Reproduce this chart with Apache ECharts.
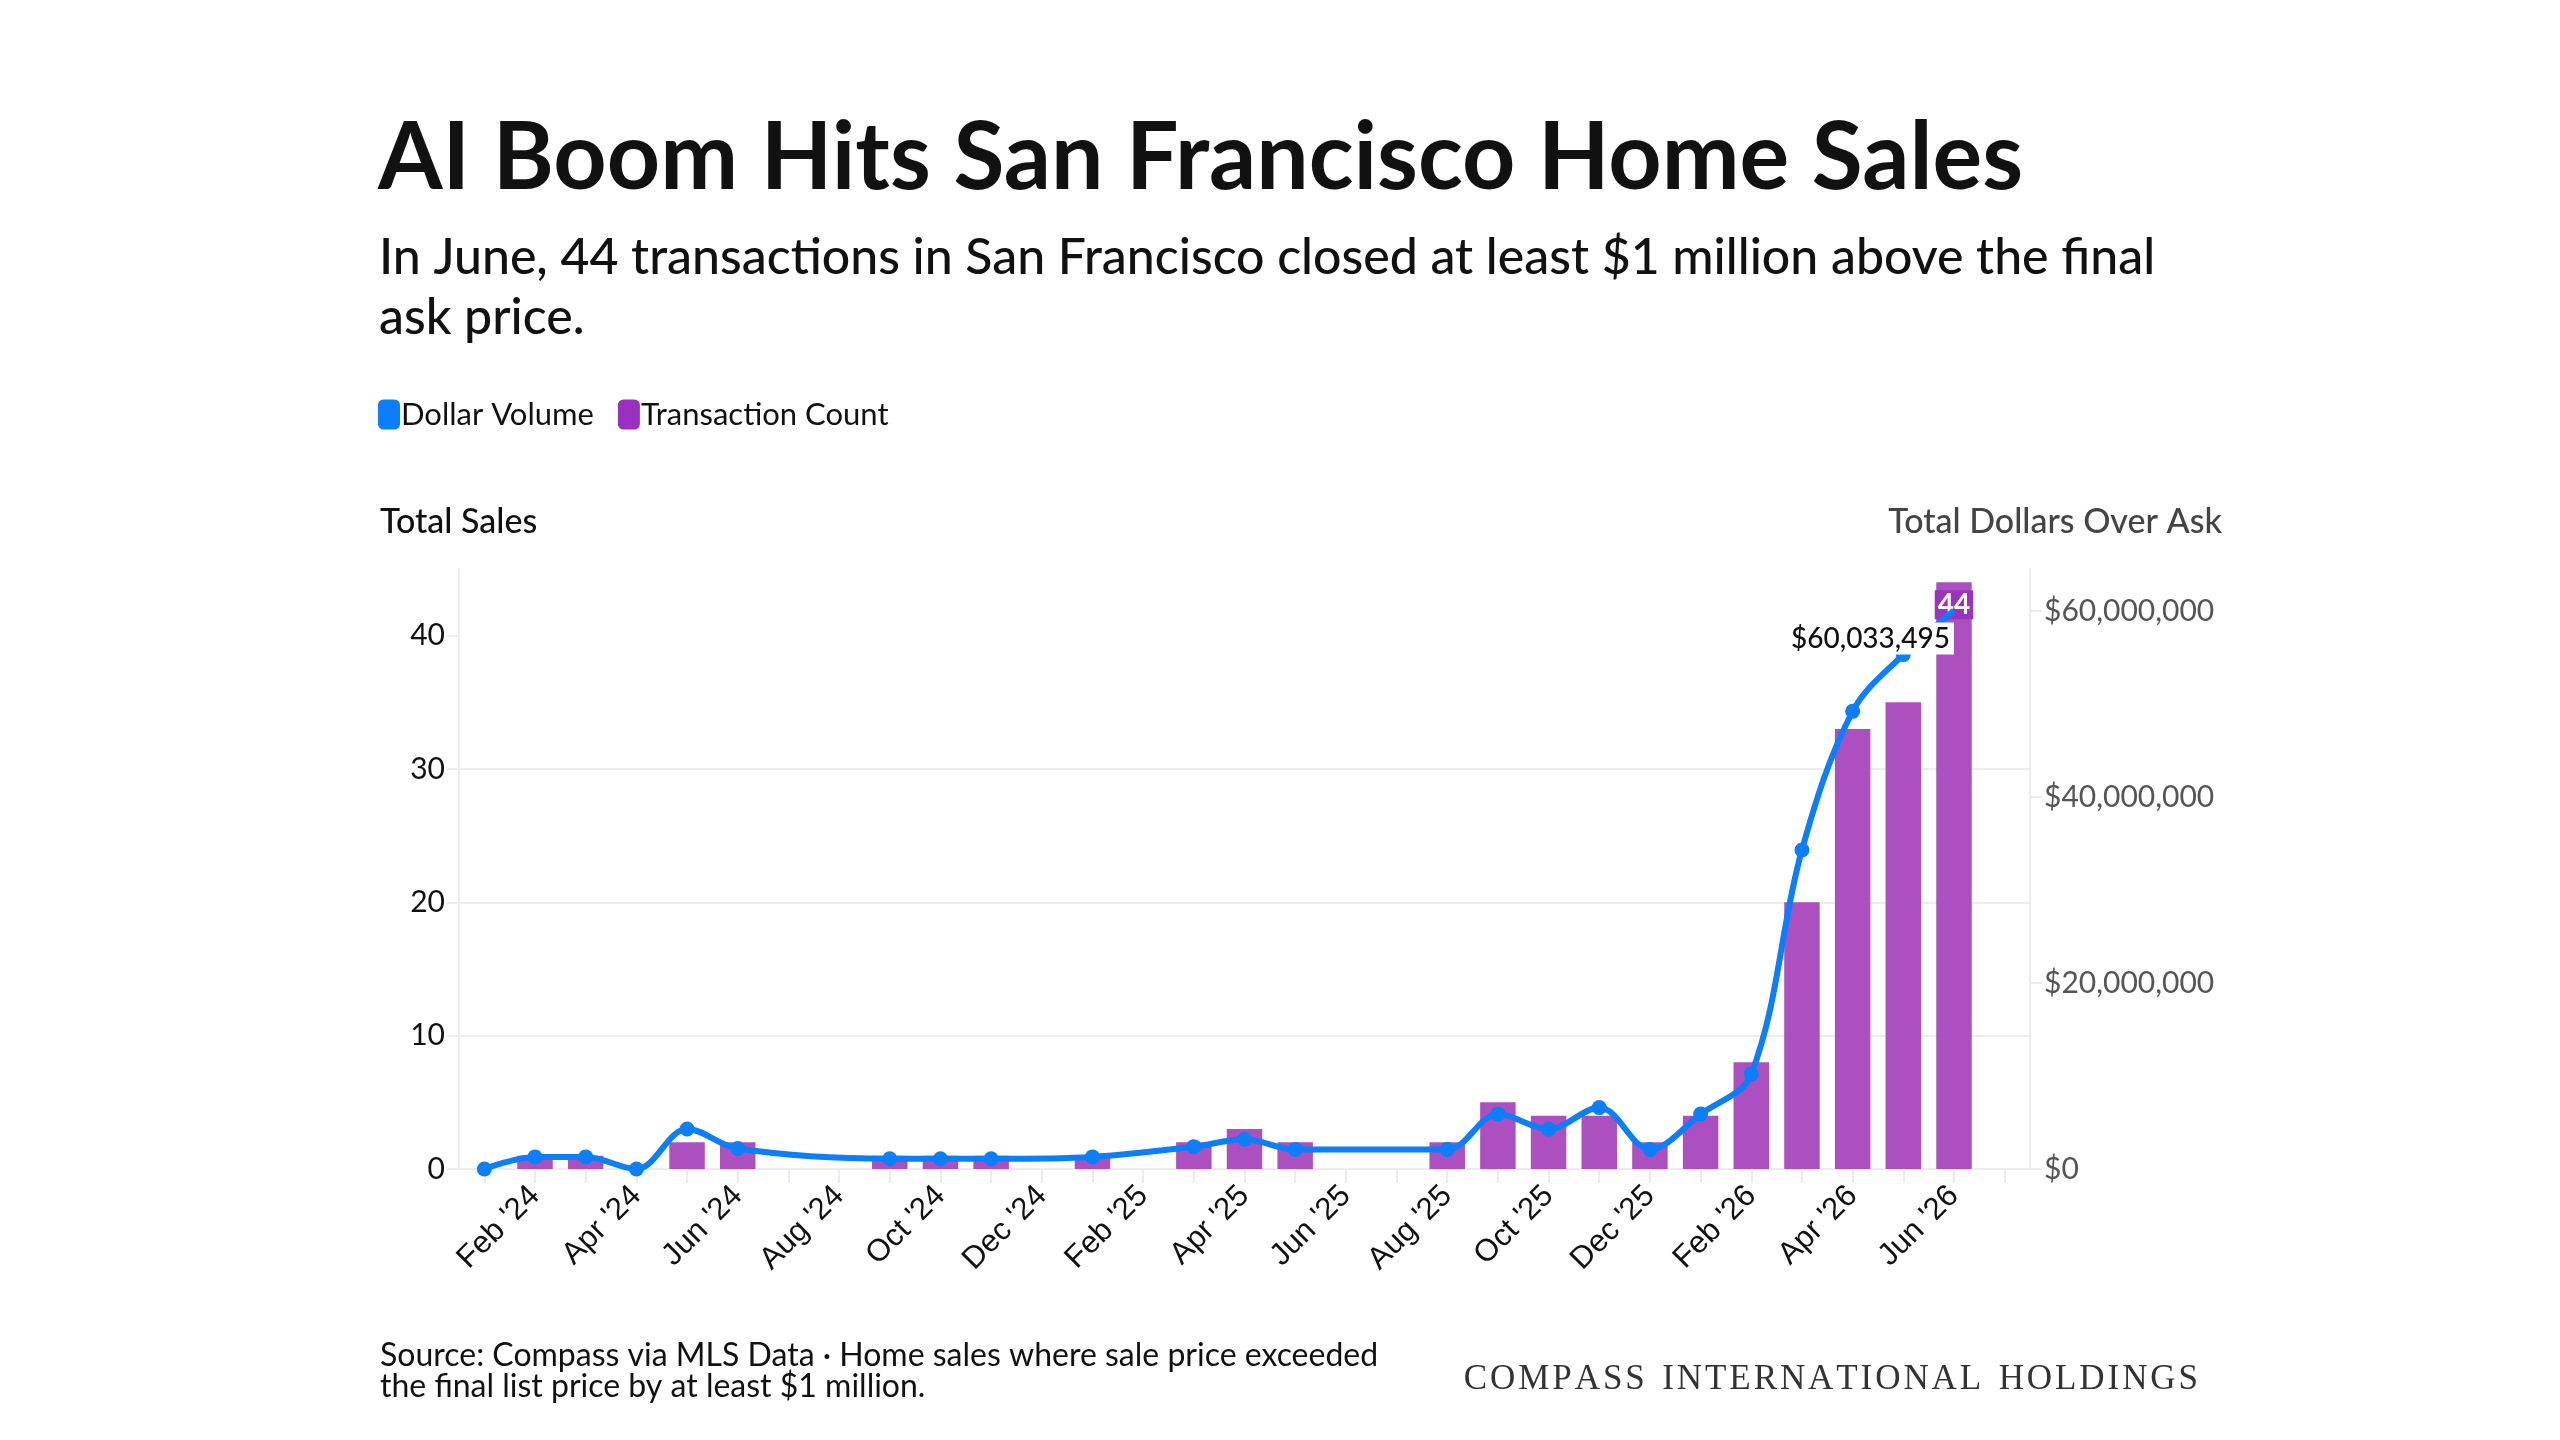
<!DOCTYPE html>
<html>
<head>
<meta charset="utf-8">
<script src="https://cdn.jsdelivr.net/npm/echarts@6/dist/echarts.min.js"></script>
<style>
html, body { margin: 0; padding: 0; background: #fff; }
#chart { width: 2560px; height: 1440px; }
</style>
</head>
<body>
<div id="chart"></div>
<script>
var myChart = echarts.init(document.getElementById('chart'));

// months on the x axis (Jul '26 is an empty slot at the end)
var months = ["Jan '24", "Feb '24", "Mar '24", "Apr '24", "May '24", "Jun '24", "Jul '24", "Aug '24",
    "Sep '24", "Oct '24", "Nov '24", "Dec '24", "Jan '25", "Feb '25", "Mar '25", "Apr '25",
    "May '25", "Jun '25", "Jul '25", "Aug '25", "Sep '25", "Oct '25", "Nov '25", "Dec '25",
    "Jan '26", "Feb '26", "Mar '26", "Apr '26", "May '26", "Jun '26", "Jul '26"];

// transaction count (bars, left axis)
var txCount = [0, 1, 1, 0, 2, 2, null, null, 1, 1, 1, null, 1, null, 2, 3,
    2, null, null, 2, 5, 4, 4, 2, 4, 8, 20, 33, 35, 44, null];

// dollar volume over ask (line, right axis)
var dollarVolume = [0, 1300000, 1300000, 0, 4300000, 2200000, null, null,
    1100000, 1100000, 1100000, null, 1300000, null, 2400000, 3200000,
    2100000, null, null, 2100000, 5900000, 4300000, 6600000, 2100000,
    5900000, 10200000, 34300000, 49200000, 55300000, 60033495, null];

var leftTicks = [0, 10, 20, 30, 40];
var rightTicks = [0, 20000000, 40000000, 60000000];

var fontMain = 'Lato, "Noto Sans", sans-serif';
var lastIdx = 29;

// spread the letters of the brand line a little (hair spaces)
function spaced(s) {
    return s.split(' ').map(function (w) { return w.split('').join('\u200a'); }).join('  ');
}

var barData = txCount.map(function (v, i) {
    if (i !== lastIdx) return v;
    return {
        value: v,
        label: {
            show: true,
            position: 'insideTop',
            distance: 8,
            color: '#fff',
            fontSize: 28,
            fontWeight: 'bold',
            fontFamily: fontMain,
            backgroundColor: '#9b34bd',
            padding: [1, 3, 0, 3]
        }
    };
});

var lineData = dollarVolume.map(function (v, i) {
    if (i !== lastIdx) return v;
    return {
        value: v,
        symbolSize: 0,
        label: {
            show: true,
            position: 'left',
            distance: 0,
            offset: [0, 28],
            color: '#111',
            fontSize: 28,
            fontWeight: 500,
            fontFamily: fontMain,
            backgroundColor: '#fff',
            padding: [2, 4, 2, 4],
            formatter: function (p) {
                return '$' + p.value.toLocaleString('en-US');
            }
        }
    };
});

option = {
    backgroundColor: '#fff',
    animation: false,
    title: [{
        text: 'AI Boom Hits San Francisco Home Sales',
        left: 373,
        top: 107,
        textStyle: { color: '#111', fontSize: 93, fontWeight: 'bold', fontFamily: fontMain }
    }, {
        text: 'In June, 44 transactions in San Francisco closed at least $1 million above the final\nask price.',
        left: 374,
        top: 223,
        textStyle: { color: '#111', fontSize: 50, fontWeight: 500, lineHeight: 60, fontFamily: fontMain }
    }, {
        text: 'Total Sales',
        left: 375,
        top: 500,
        textStyle: { color: '#111', fontSize: 34, fontWeight: 500, fontFamily: fontMain }
    }, {
        text: 'Total Dollars Over Ask',
        right: 333,
        top: 500,
        textStyle: { color: '#444', fontSize: 34, fontWeight: 500, fontFamily: fontMain }
    }, {
        text: 'Source: Compass via MLS Data \u00b7 Home sales where sale price exceeded\nthe final list price by at least $1 million.',
        left: 375,
        top: 1335,
        textStyle: { color: '#111', fontSize: 32, fontWeight: 'normal', lineHeight: 31, fontFamily: fontMain }
    }, {
        text: spaced('COMPASS INTERNATIONAL HOLDINGS'),
        right: 357,
        top: 1357,
        textStyle: { color: '#333', fontSize: 35, fontWeight: 'normal', fontFamily: '"Liberation Serif", serif' }
    }],
    legend: {
        left: 373,
        top: 394,
        itemWidth: 22,
        itemHeight: 30,
        itemGap: 24,
        icon: 'roundRect',
        textStyle: { color: '#111', fontSize: 31, fontFamily: fontMain, padding: [0, 0, 0, -4] },
        data: [
            { name: 'Dollar Volume', itemStyle: { color: '#0c7ef7' } },
            { name: 'Transaction Count', itemStyle: { color: '#9a2fc0' } }
        ]
    },
    grid: {
        left: 459,
        right: 530,
        top: 569,
        bottom: 271
    },
    xAxis: {
        type: 'category',
        data: months,
        boundaryGap: true,
        axisLine: { show: true, lineStyle: { color: '#ececec', width: 2 } },
        axisTick: {
            show: true,
            alignWithLabel: true,
            interval: 0,
            length: 14,
            lineStyle: { color: '#ececec', width: 2 }
        },
        axisLabel: {
            interval: function (index) { return index % 2 === 1; },
            rotate: 45,
            margin: 22,
            color: '#111',
            fontSize: 31,
            fontFamily: '"Liberation Sans", Arial, sans-serif'
        }
    },
    yAxis: [{
        type: 'value',
        min: 0,
        max: 45,
        interval: 10,
        position: 'left',
        axisLine: { show: true, lineStyle: { color: '#ececec', width: 2 } },
        axisTick: { show: true, length: 12, customValues: leftTicks, lineStyle: { color: '#ececec', width: 2 } },
        axisLabel: {
            customValues: leftTicks,
            margin: 14,
            color: '#111',
            fontSize: 30,
            fontFamily: fontMain
        },
        splitLine: { show: true, showMaxLine: false, lineStyle: { color: '#ececec', width: 2 } }
    }, {
        type: 'value',
        min: 0,
        max: 64500000,
        interval: 20000000,
        position: 'right',
        axisLine: { show: true, lineStyle: { color: '#ececec', width: 2 } },
        axisTick: { show: true, length: 12, customValues: rightTicks, lineStyle: { color: '#ececec', width: 2 } },
        axisLabel: {
            customValues: rightTicks,
            margin: 14,
            color: '#555',
            fontSize: 30,
            fontFamily: fontMain,
            formatter: function (v) { return '$' + v.toLocaleString('en-US'); }
        },
        splitLine: { show: false }
    }],
    series: [{
        name: 'Transaction Count',
        type: 'bar',
        yAxisIndex: 0,
        barWidth: '70%',
        itemStyle: { color: '#ad50bf' },
        data: barData,
        z: 2
    }, {
        name: 'Dollar Volume',
        type: 'line',
        yAxisIndex: 1,
        smooth: 0.35,
        connectNulls: true,
        symbol: 'circle',
        symbolSize: 15,
        itemStyle: { color: '#0c7ef7' },
        lineStyle: { color: '#0c7ef7', width: 6 },
        data: lineData,
        z: 3
    }]
};

myChart.setOption(option);
</script>
</body>
</html>
